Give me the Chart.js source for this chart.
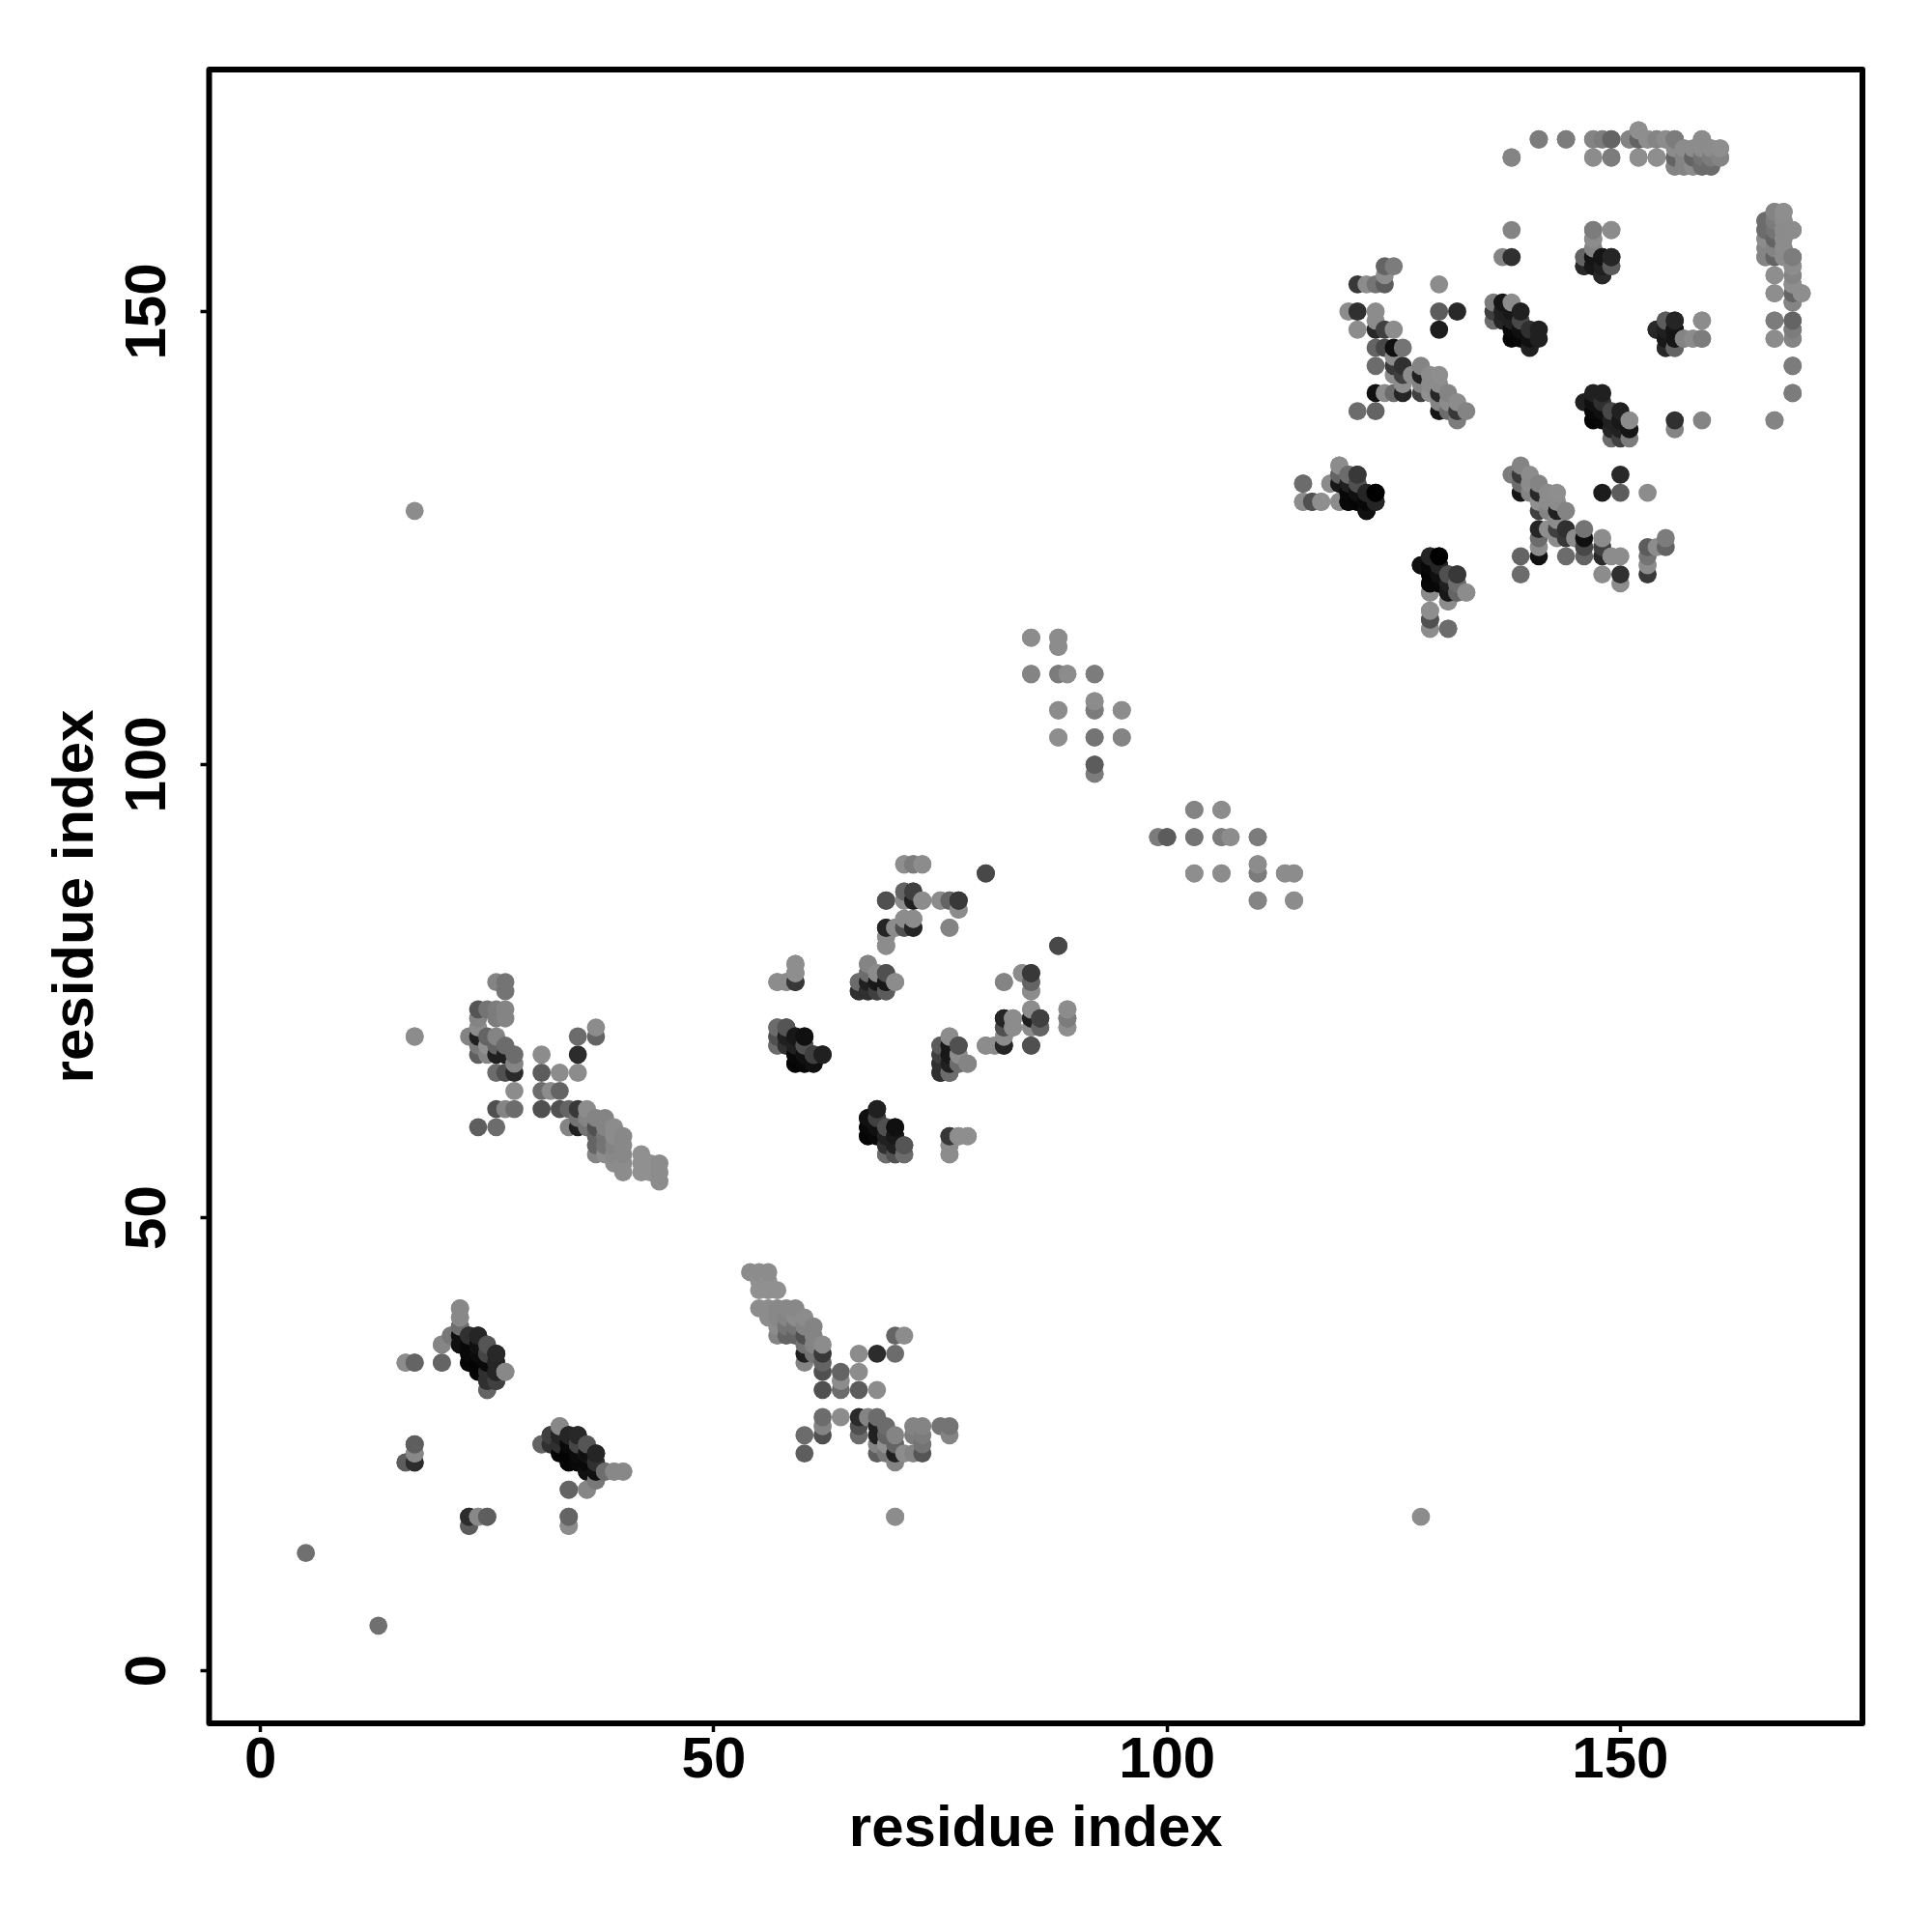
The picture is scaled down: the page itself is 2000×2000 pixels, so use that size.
<!DOCTYPE html>
<html>
<head>
<meta charset="utf-8">
<title>residue contact map</title>
<script src="https://cdn.jsdelivr.net/npm/chart.js@4"></script>
<style>
  html, body { margin: 0; padding: 0; background: #fff; }
  #wrap { width: 2000px; height: 2000px; }
</style>
</head>
<body>
<div id="wrap"><canvas id="chart" width="2000" height="2000"></canvas></div>
<script>
// contacts are [residue, residue, gray level], each one is plotted on both sides of the diagonal
const isolated = [[5,13,0x70],[17,128,0x8c],[17,70,0x8c]];
const helixA = [
  [16,34,0x8c],[17,34,0x6e],[20,34,0x6a],[20,36,0x88],[21,37,0x84],
  [22,40,0x8c],[22,39,0x8c],[22,38,0x74],[22,37,0x22],[22,36,0x1a],
  [23,37,0x30],[23,36,0x10],[23,35,0x08],[23,34,0x05],
  [24,37,0x28],[24,36,0x40],[24,35,0x10],[24,34,0x05],
  [25,35,0x50],[25,34,0x10],[25,33,0x20],[25,32,0x50],[25,31,0x74],
  [26,35,0x22],[26,34,0x25],[26,33,0x15],[26,32,0x30],[27,33,0x8c],
  [16,23,0x64],[17,23,0x2c],[17,24,0x88],[17,25,0x5e],
  [23,16,0x5c],[23,17,0x2c],[24,17,0x88],[25,17,0x5e]
];
const helixB = [
  [34,16,0x8c],[34,17,0x64],[34,20,0x64],[36,20,0x86],[37,21,0x78],
  [31,25,0x64],[32,26,0x40],[32,25,0x30],
  [33,27,0x88],[33,26,0x25],[33,25,0x30],[33,24,0x05],
  [34,26,0x25],[34,25,0x0a],[34,24,0x04],[34,23,0x05],
  [35,26,0x28],[35,25,0x45],[35,24,0x0c],[35,23,0x08],
  [36,25,0x55],[36,24,0x10],[36,23,0x08],[36,22,0x10],
  [37,24,0x25],[37,23,0x30],[37,22,0x10],[38,22,0x6e],[39,22,0x88],[40,22,0x88]
];
const strandA = [
  [54,44,0x8c],[55,44,0x8c],[56,44,0x8c],[55,43,0x90],[56,43,0x90],
  [55,42,0x90],[56,42,0x90],[57,42,0x90],
  [55,40,0x8c],[56,40,0x8c],[57,40,0x88],[58,40,0x88],[59,40,0x88],
  [56,39,0x8c],[57,39,0x88],[58,39,0x84],[59,39,0x8c],[60,39,0x8c],
  [57,38,0x8c],[58,38,0x74],[59,38,0x74],[60,38,0x84],[61,38,0x84],
  [57,37,0x84],[58,37,0x64],[59,37,0x64],[60,37,0x50],[61,37,0x84],
  [60,36,0x74],[61,36,0x84],[62,36,0x8c],
  [60,35,0x20],[61,35,0x74],[62,35,0x38],[60,34,0x84],[62,34,0x64],
  [62,33,0x50],[64,33,0x64],[66,33,0x8c],[66,35,0x8c],[68,35,0x2c],[70,35,0x6c],
  [70,37,0x64],[71,37,0x8c],[64,32,0x8c],
  [62,31,0x50],[64,31,0x6c],[66,31,0x5c],[68,31,0x8c]
];
const strandB = [
  [62,28,0x6c],[64,28,0x8c],[66,28,0x2a],[67,28,0x84],[68,28,0x6c],
  [62,27,0x84],[66,27,0x50],[68,27,0x20],[69,27,0x6c],
  [60,26,0x6c],[62,26,0x50],[66,26,0x6c],[68,26,0x20],[69,26,0x64],[70,26,0x84],
  [68,25,0x84],[69,25,0x90],[70,25,0x64],[60,24,0x5e],
  [68,24,0x5e],[69,24,0x78],[70,24,0x20],[71,24,0x8c],[72,24,0x84],[73,24,0x55],
  [70,23,0x84],[72,27,0x84],[73,27,0x84],[75,27,0x74],[76,27,0x74],
  [72,26,0x7c],[73,26,0x7c],[76,26,0x84],[73,25,0x74],[70,17,0x8c]
];
const sheetA = [
  [71,89,0x8e],[72,89,0x7c],[73,89,0x8e],[80,88,0x48],[71,86,0x74],[72,86,0x48],
  [69,85,0x48],[71,85,0x8c],[72,85,0x30],[73,85,0x8e],[75,85,0x8c],[76,85,0x6c],[77,85,0x30],
  [77,84,0x8c],[71,83,0x8c],[72,83,0x8c],
  [69,82,0x20],[70,82,0x84],[71,82,0x64],[72,82,0x20],[76,82,0x7e],[69,81,0x90],[69,80,0x84],
  [88,80,0x48],[67,78,0x84],[59,78,0x8e],[59,77,0x90],[59,76,0x30],[57,76,0x8e],[58,76,0x8e],
  [66,76,0x64],[67,77,0x7c],[67,76,0x30],[68,77,0x8c],[68,76,0x20],[69,77,0x50],[69,76,0x20],[70,76,0x8c],
  [66,75,0x30],[67,75,0x25],[68,75,0x28],[69,75,0x50]
];
const sheetB = [
  [57,71,0x7c],[58,71,0x50],[57,70,0x50],[58,70,0x28],[59,70,0x20],[60,70,0x10],
  [57,69,0x64],[58,69,0x50],[59,69,0x20],[60,69,0x40],
  [59,68,0x10],[60,68,0x15],[61,68,0x40],[62,68,0x20],[59,67,0x05],[60,67,0x05],[61,67,0x08],
  [76,70,0x8c],[75,69,0x5c],[76,69,0x18],[77,69,0x50],[75,68,0x40],[76,68,0x18],[77,68,0x8c],
  [75,67,0x30],[76,67,0x20],[77,67,0x6c],[78,67,0x84],[75,66,0x30],[76,66,0x6c],
  [80,69,0x8c],[81,69,0x8c],[82,69,0x25],[82,70,0x8c],[82,71,0x50],[82,72,0x25],[83,72,0x8c],[83,71,0x8c],
  [85,69,0x50],[85,71,0x8c],[86,71,0x64],[85,72,0x20],[86,72,0x40],[85,73,0x8c],
  [89,73,0x8c],[89,72,0x7c],[89,71,0x8e],[82,76,0x84],[84,77,0x8c],[85,77,0x38],[85,76,0x64],[85,75,0x8c],
  [68,62,0x20],[67,61,0x10],[68,61,0x40],[67,60,0x08],[68,60,0x10],[69,60,0x50],[70,60,0x10],
  [67,59,0x05],[68,59,0x08],[69,59,0x20],[70,59,0x18],[69,58,0x30],[70,58,0x20],[71,58,0x55],
  [69,57,0x6c],[70,57,0x50],[71,57,0x6c],
  [76,59,0x38],[77,59,0x8e],[78,59,0x8e],[76,58,0x8c],[76,57,0x8c]
];
const sparse = [
  [85,114,0x8e],[88,114,0x8c],[88,113,0x8c],[85,110,0x8c],[88,110,0x7c],[89,110,0x8c],[92,110,0x79],
  [88,106,0x8c],[92,107,0x8c],[92,106,0x7c],[95,106,0x88],[88,103,0x8e],[92,103,0x74],[95,103,0x84],
  [92,100,0x5c],[92,99,0x7c],[103,95,0x84],[106,95,0x8c],
  [99,92,0x7c],[100,92,0x5c],[103,92,0x74],[106,92,0x7c],[107,92,0x8c],[110,92,0x7c],
  [103,88,0x8e],[106,88,0x8c],[110,89,0x8c],[110,88,0x7c],[113,88,0x8c],[114,88,0x8c],[110,85,0x84],[114,85,0x8c]
];
const cterm1 = [
  [115,131,0x6c],[115,129,0x8c],[116,129,0x64],[117,129,0x8e],[118,131,0x8c],[119,129,0x8c],
  [119,133,0x8c],[119,132,0x5c],[119,131,0x20],[120,132,0x74],[121,132,0x40],
  [120,131,0x08],[120,130,0x08],[120,129,0x05],[121,131,0x40],[121,130,0x10],[121,129,0x08],
  [122,130,0x30],[122,129,0x10],[122,128,0x10],[123,130,0x00],[123,129,0x30],
  [128,122,0x10],[129,123,0x25],[130,123,0x00],[129,122,0x08],[130,122,0x25],[131,121,0x50],[132,121,0x38],
  [129,121,0x05],[130,121,0x10],[129,120,0x08],[130,120,0x08],[131,120,0x20],[132,120,0x6c],
  [129,119,0x8c],[131,119,0x18],[132,119,0x64],[133,119,0x8c],[131,118,0x8c],
  [129,117,0x8e],[129,116,0x50],[129,115,0x8c],[131,115,0x6c]
];
const cterm2 = [
  [139,133,0x84],[138,132,0x7c],[139,132,0x38],[139,131,0x6c],[139,130,0x15],
  [140,132,0x8c],[140,131,0x8c],[140,130,0x84],[141,131,0x84],[141,130,0x28],[141,129,0x90],[141,128,0x40],
  [142,130,0x8c],[142,129,0x8c],[142,128,0x84],[142,126,0x8e],
  [143,130,0x8e],[143,129,0x8c],[143,128,0x20],[143,127,0x8c],[143,126,0x40],[143,125,0x8c],
  [144,128,0x84],[144,126,0x30],[144,125,0x38],[141,126,0x25],[141,125,0x6c],[141,124,0x8c],[141,123,0x10],
  [139,123,0x64],[139,121,0x6c],[144,123,0x6c],[145,125,0x8c],
  [146,126,0x74],[146,125,0x10],[146,124,0x48],[146,123,0x64],
  [148,125,0x8c],[148,124,0x40],[148,123,0x28],[149,123,0x8c],[150,123,0x8c],
  [148,121,0x8c],[150,121,0x30],[150,120,0x8c],[150,132,0x28],[148,130,0x1c],[150,130,0x5c],[153,130,0x8c],
  [153,124,0x5c],[153,123,0x74],[153,122,0x8c],[153,121,0x38],[154,124,0x8c],[155,125,0x7c],[155,124,0x64]
];
const topRow = [
  [138,167,0x74],[141,169,0x7c],[144,169,0x84],[147,169,0x8c],[148,169,0x8c],[149,169,0x6c],
  [151,169,0x84],[152,170,0x8c],[152,169,0x74],[153,169,0x8c],[154,169,0x84],[155,169,0x8c],[156,169,0x7c],
  [147,167,0x8c],[149,167,0x7c],[152,167,0x8c],[154,167,0x8c],[157,168,0x84],[159,169,0x8c],
  [156,167,0x7c],[156,166,0x7c],[157,167,0x84],[157,166,0x84],[158,166,0x84],
  [159,168,0x8c],[159,167,0x64],[159,166,0x6c],[160,168,0x84],[160,167,0x74],[160,166,0x64],[161,168,0x8c],[161,167,0x7c]
];
const cterm3 = [
  [147,159,0x7c],[149,159,0x8c],[147,158,0x8c],[147,157,0x84],[146,156,0x6c],[146,155,0x28],
  [147,156,0x28],[147,155,0x18],[148,156,0x20],[148,155,0x18],[148,154,0x30],[149,156,0x20],[149,155,0x50],
  [155,149,0x5c],[156,149,0x25],[154,148,0x28],[155,148,0x20],[156,148,0x15],
  [155,147,0x18],[156,147,0x15],[157,147,0x84],[158,147,0x8c],[159,147,0x7c],[159,149,0x8c],
  [155,146,0x28],[156,146,0x64],
  [147,141,0x20],[148,141,0x20],[146,140,0x20],[147,140,0x10],[148,140,0x30],
  [147,139,0x08],[148,139,0x10],[149,139,0x48],[150,139,0x20],
  [147,138,0x05],[148,138,0x08],[149,138,0x20],[150,138,0x18],[151,138,0x8c],
  [149,137,0x25],[150,137,0x20],[151,137,0x15],[149,136,0x6c],[150,136,0x40],[151,136,0x7c],
  [156,138,0x30],[156,137,0x84],[159,138,0x84]
];
const rightColumn = [
  [167,138,0x84],[169,141,0x7c],[169,144,0x7c],[167,149,0x7c],[167,147,0x8c],
  [169,149,0x64],[169,148,0x7c],[169,147,0x84],[167,154,0x8e],[167,152,0x8e],
  [169,156,0x7c],[169,155,0x8c],[169,154,0x84],[169,153,0x8e],[169,152,0x64],[169,151,0x84],[170,152,0x8e],
  [167,161,0x84],[168,161,0x8e],[166,160,0x6c],[167,160,0x7c],[168,160,0x8c],
  [166,159,0x6c],[167,159,0x74],[168,159,0x8c],[169,159,0x8c],[166,158,0x8c],[167,158,0x64],[168,158,0x8c],
  [166,157,0x84],[167,157,0x84],[168,157,0x8c],[166,156,0x84],[167,156,0x64],[168,156,0x8c]
];
const tickValues = [0, 50, 100, 150];
const axisLabel = 'residue index';

// both halves of the map, drawn left to right and bottom to top
const contacts = [isolated, helixA, helixB, strandA, strandB, sheetA, sheetB, sparse, cterm1, cterm2, topRow, cterm3, rightColumn]
  .flat()
  .flatMap(([a, b, g]) => [{ x: a, y: b, g }, { x: b, y: a, g }])
  .sort((p, q) => p.x - q.x || p.y - q.y);

const FONT = 'Liberation Sans';

// R style box round the plot
const boxPlugin = {
  id: 'box',
  afterDatasetsDraw(chart) {
    const { ctx, chartArea: a } = chart;
    ctx.save();
    ctx.strokeStyle = '#000';
    ctx.lineWidth = 6;
    ctx.lineJoin = 'round';
    ctx.strokeRect(a.left, a.top, a.right - a.left, a.bottom - a.top);
    ctx.restore();
  }
};

const fixTicks = axis => { axis.ticks = tickValues.map(v => ({ value: v })); };

new Chart(document.getElementById('chart'), {
  type: 'scatter',
  data: {
    datasets: [{
      data: contacts,
      backgroundColor: contacts.map(p => `rgb(${p.g},${p.g},${p.g})`),
      borderWidth: 0,
      pointRadius: 9.4,
      pointHoverRadius: 9.4
    }]
  },
  plugins: [boxPlugin],
  options: {
    responsive: false,
    animation: false,
    layout: { padding: { left: 0, top: 72, right: 72, bottom: 0 } },
    plugins: { legend: { display: false }, tooltip: { enabled: false } },
    scales: {
      x: {
        type: 'linear',
        min: -5.67,
        max: 176.7,
        afterBuildTicks: fixTicks,
        afterFit: axis => { axis.height = 216; },
        border: { display: false },
        grid: { drawOnChartArea: false, drawTicks: true, tickLength: 9, tickWidth: 3.5, tickColor: '#000' },
        ticks: { color: '#000', padding: -6, maxRotation: 0, font: { family: FONT, weight: 'bold', size: 60 } },
        title: { display: true, text: axisLabel, color: '#000', padding: { top: 0, bottom: 70 }, font: { family: FONT, weight: 'bold', size: 60 } }
      },
      y: {
        type: 'linear',
        min: -5.79,
        max: 176.7,
        afterBuildTicks: fixTicks,
        afterFit: axis => { axis.width = 216.5; },
        border: { display: false },
        grid: { drawOnChartArea: false, drawTicks: true, tickLength: 9, tickWidth: 3.5, tickColor: '#000' },
        ticks: { color: '#000', padding: 3, minRotation: 90, maxRotation: 90, crossAlign: 'center', font: { family: FONT, weight: 'bold', size: 60 } },
        title: { display: true, text: axisLabel, color: '#000', padding: { top: 43, bottom: 0 }, font: { family: FONT, weight: 'bold', size: 60 } }
      }
    }
  }
});
</script>
</body>
</html>
